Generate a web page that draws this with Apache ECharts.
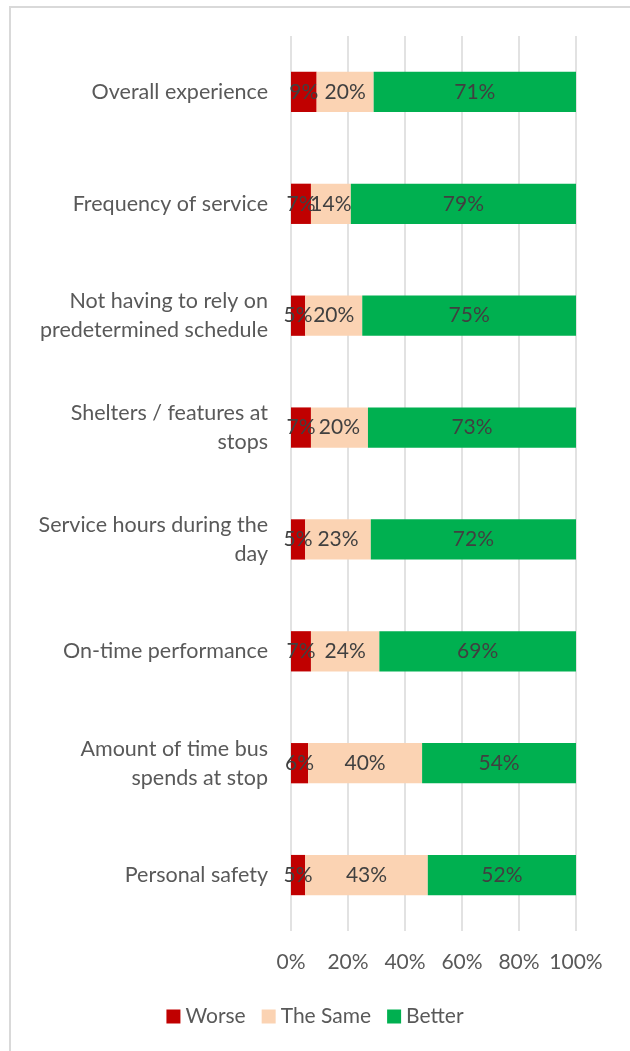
<!DOCTYPE html>
<html>
<head>
<meta charset="utf-8">
<script src="https://cdn.jsdelivr.net/npm/echarts@6/dist/echarts.min.js"></script>
<style>
  html, body { margin: 0; padding: 0; background: #fff; }
  #frame { position: absolute; left: 9px; top: 6px; width: 640px; height: 1060px; border: 2px solid #d9d9d9; box-sizing: border-box; }
  #chart { position: absolute; left: 0; top: 0; width: 630px; height: 1051px; }
</style>
</head>
<body>
<div id="frame"></div>
<div id="chart"></div>
<script>
// categories, top to bottom
var categories = [
    'Overall experience',
    'Frequency of service',
    'Not having to rely on\npredetermined schedule',
    'Shelters / features at\nstops',
    'Service hours during the\nday',
    'On-time performance',
    'Amount of time bus\nspends at stop',
    'Personal safety'
];
var worse = [9, 7, 5, 7, 5, 7, 6, 5];
var same = [20, 14, 20, 20, 23, 24, 40, 43];
var better = [71, 79, 75, 73, 72, 69, 54, 52];
var xTicks = [0, 20, 40, 60, 80, 100];

var font = 'Lato, "Open Sans", sans-serif';

function mkSeries(name, data, color) {
    return {
        name: name,
        type: 'bar',
        stack: 'all',
        barCategoryGap: '64%',
        data: data,
        itemStyle: { color: color },
        label: {
            show: true,
            position: 'inside',
            formatter: '{c}%',
            color: '#404040',
            fontSize: 21,
            fontFamily: font
        }
    };
}

var myChart = echarts.init(document.getElementById('chart'));
var option = {
    animation: false,
    grid: { left: 291, right: 54, top: 36, bottom: 120 },
    legend: {
        data: ['Worse', 'The Same', 'Better'],
        bottom: 19,
        left: 'center',
        itemWidth: 14,
        itemHeight: 14,
        itemGap: 16,
        icon: 'rect',
        textStyle: { fontSize: 21, color: '#595959', fontFamily: font }
    },
    xAxis: {
        type: 'value',
        min: 0,
        max: 100,
        interval: 20,
        axisLine: { show: false },
        axisTick: { show: false },
        splitLine: { lineStyle: { color: '#d9d9d9', width: 1.5 } },
        axisLabel: {
            margin: 21,
            fontSize: 21,
            color: '#595959',
            fontFamily: font,
            formatter: function (v) { return xTicks.indexOf(v) >= 0 ? v + '%' : ''; }
        }
    },
    yAxis: {
        type: 'category',
        inverse: true,
        data: categories,
        axisLine: { show: false },
        axisTick: { show: false },
        axisLabel: {
            margin: 23,
            fontSize: 21.5,
            lineHeight: 29,
            color: '#595959',
            fontFamily: font,
            align: 'right'
        }
    },
    series: [
        mkSeries('Worse', worse, '#c00000'),
        mkSeries('The Same', same, '#fbd3b3'),
        mkSeries('Better', better, '#00b050')
    ]
};
myChart.setOption(option);
</script>
</body>
</html>
